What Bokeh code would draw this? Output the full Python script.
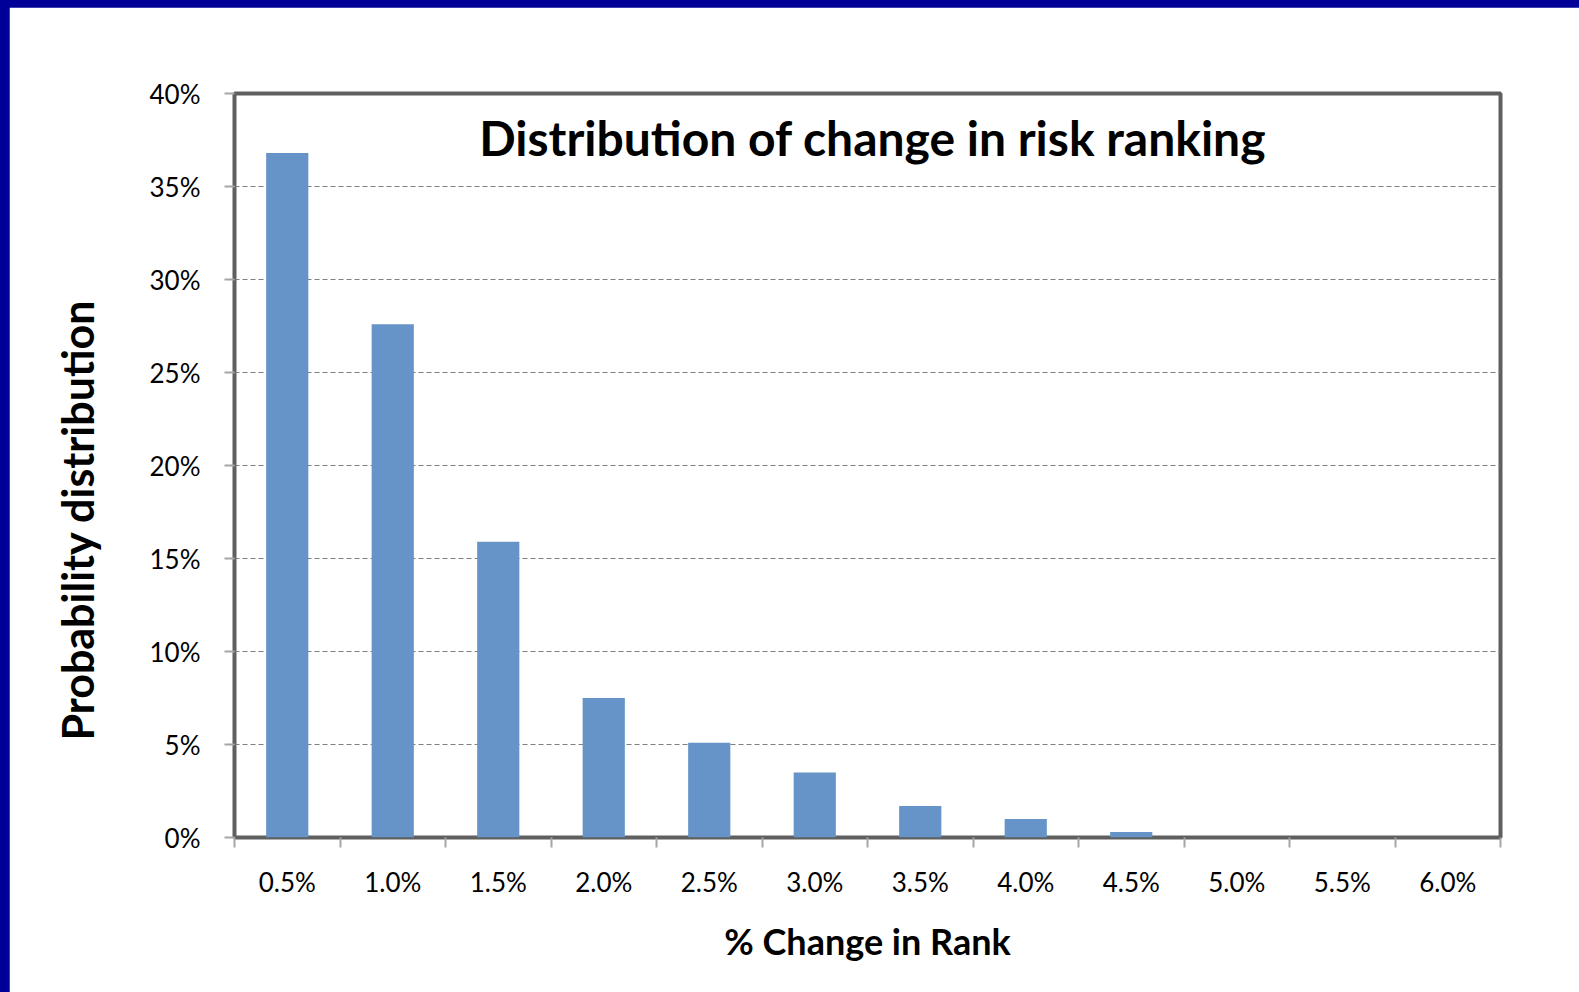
from bokeh.plotting import figure
from bokeh.models import FixedTicker, Label, Range1d, ColumnDataSource, Title
from bokeh.embed import file_html
from bokeh.resources import INLINE
from bokeh.layouts import column

# ---- data ----
categories = ["0.5%", "1.0%", "1.5%", "2.0%", "2.5%", "3.0%",
              "3.5%", "4.0%", "4.5%", "5.0%", "5.5%", "6.0%"]
probabilities = [36.8, 27.6, 15.9, 7.5, 5.1, 3.5, 1.7, 1.0, 0.3, 0.0, 0.0, 0.0]
y_ticks = [0, 5, 10, 15, 20, 25, 30, 35, 40]
y_tick_labels = ["0%", "5%", "10%", "15%", "20%", "25%", "30%", "35%", "40%"]
chart_title = "Distribution of change in risk ranking"
x_title = "% Change in Rank"
y_title = "Probability distribution"

x_centers = [i + 0.5 for i in range(len(categories))]
x_bounds = list(range(len(categories) + 1))

FONT = "Lato"

p = figure(width=1570, height=985, output_backend="svg", toolbar_location=None,
           x_range=Range1d(0, len(categories)), y_range=Range1d(0, 40),
           min_border_left=223, min_border_right=79, min_border_top=86,
           min_border_bottom=155)
p.margin = (7, 0, 0, 9)
p.background_fill_color = "white"
p.border_fill_color = "white"
p.outline_line_color = "#5f5f5f"
p.outline_line_width = 4

src = ColumnDataSource(dict(x=x_centers, top=probabilities, cat=categories))
p.vbar(x="x", top="top", bottom=0, width=0.4, source=src,
       fill_color="#6794c8", line_color=None)

# x axis
xa = p.xaxis[0]
xa.ticker = FixedTicker(ticks=x_centers, minor_ticks=x_bounds)
xa.major_label_overrides = {c: lab for c, lab in zip(x_centers, categories)}
xa.major_tick_out = 0
xa.major_tick_in = 0
xa.minor_tick_out = 10
xa.minor_tick_in = 0
xa.minor_tick_line_color = "#a6a6a6"
xa.minor_tick_line_width = 2
xa.axis_line_color = None
xa.major_label_text_font = FONT
xa.major_label_text_font_size = "26px"
xa.major_label_text_color = "black"
xa.major_label_standoff = 18
xa.axis_label = x_title
xa.axis_label_text_font = FONT
xa.axis_label_text_font_style = "bold"
xa.axis_label_text_font_size = "36px"
xa.axis_label_text_color = "black"
xa.axis_label_standoff = 18

# y axis
ya = p.yaxis[0]
ya.ticker = FixedTicker(ticks=y_ticks)
ya.major_label_overrides = {t: lab for t, lab in zip(y_ticks, y_tick_labels)}
ya.major_tick_out = 10
ya.major_tick_in = 0
ya.major_tick_line_color = "#a6a6a6"
ya.major_tick_line_width = 2
ya.minor_tick_out = 0
ya.minor_tick_in = 0
ya.axis_line_color = None
ya.major_label_text_font = FONT
ya.major_label_text_font_size = "26px"
ya.major_label_text_color = "black"
ya.major_label_standoff = 24

p.xgrid.visible = False
p.ygrid.ticker = FixedTicker(ticks=y_ticks[1:-1])
p.ygrid.grid_line_color = "#808080"
p.ygrid.grid_line_dash = "5 3"
p.ygrid.grid_line_width = 1

# chart title inside plot area
p.add_layout(Label(x=len(categories) / 2 + 0.05, y=37.65, text=chart_title,
                   text_font=FONT, text_font_style="bold", text_font_size="48px",
                   text_align="center", text_baseline="alphabetic",
                   text_color="black"))

# y axis title, as a side title left of the axis
p.add_layout(Title(text=y_title, align="left", vertical_align="top",
                   offset=97, standoff=84,
                   text_font=FONT, text_font_style="bold",
                   text_font_size="43px", text_color="black"), "left")

layout = column(p, styles={"background-color": "#000099"})

open("out.html", "w").write(file_html(layout, INLINE))
